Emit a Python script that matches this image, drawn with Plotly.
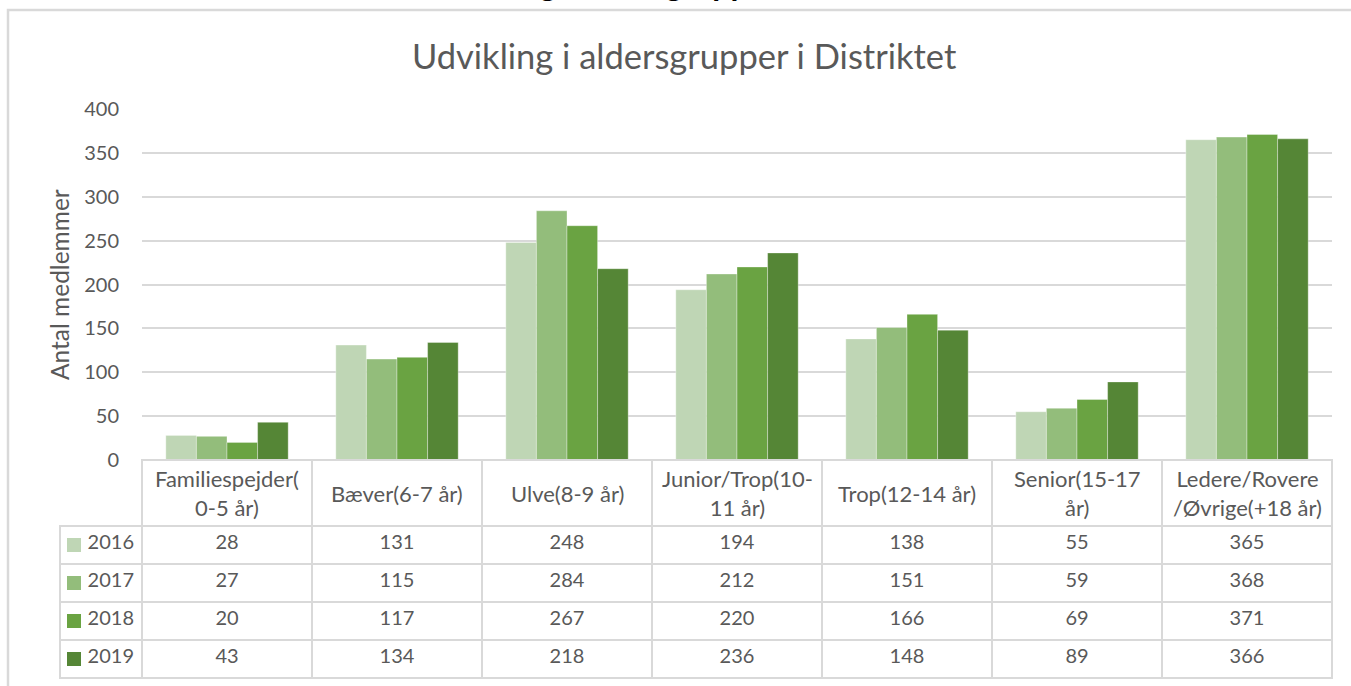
import plotly.graph_objects as go

# ---------------- data ----------------
categories = ["Familiespejder(0-5 år)", "Bæver(6-7 år)", "Ulve(8-9 år)",
              "Junior/Trop(10-11 år)", "Trop(12-14 år)", "Senior(15-17 år)",
              "Ledere/Rovere/Øvrige(+18 år)"]
header_labels = ["Familiespejder(<br>0-5 år)", "Bæver(6-7 år)", "Ulve(8-9 år)",
                 "Junior/Trop(10-<br>11 år)", "Trop(12-14 år)", "Senior(15-17<br>år)",
                 "Ledere/Rovere<br>/Øvrige(+18 år)"]
years = ["2016", "2017", "2018", "2019"]
v2016 = [28, 131, 248, 194, 138, 55, 365]
v2017 = [27, 115, 284, 212, 151, 59, 368]
v2018 = [20, 117, 267, 220, 166, 69, 371]
v2019 = [43, 134, 218, 236, 148, 89, 366]
series = [v2016, v2017, v2018, v2019]
colors = ["#BFD6B5", "#93BD7B", "#6AA342", "#558636"]

title = "Udvikling i aldersgrupper i Distriktet"
clipped_heading = "Udvikling i aldersgrupper"
y_title = "Antal medlemmer"

# ---------------- layout helpers ----------------
W, H = 1351, 686
FONT = "Lato"
GREY = "#595959"
LINE = "#D9D9D9"
TABLE_TOP, HEADER_H, ROW_H = 460, 66, 38


def fx(p):
    return p / W


def fy(p):
    return 1 - p / H


fig = go.Figure()

for yr, vals, col in zip(years, series, colors):
    fig.add_trace(go.Bar(
        x=categories, y=vals, name=yr,
        marker=dict(color=col, line=dict(color="rgba(255,255,255,0.35)", width=1)),
        showlegend=False,
    ))

# data table below the plot
table_cols = [years] + [[s[i] for s in series] for i in range(len(categories))]
header_line_colors = ["rgba(0,0,0,0)"] + [LINE] * len(categories)
header_fill = ["rgba(0,0,0,0)"] + ["white"] * len(categories)

fig.add_trace(go.Table(
    domain=dict(x=[fx(60), fx(1332)], y=[0, fy(TABLE_TOP)]),
    columnwidth=[82] + [170] * len(categories),
    header=dict(values=[""] * (len(categories) + 1), height=HEADER_H,
                fill=dict(color=header_fill),
                line=dict(color=header_line_colors, width=1.5)),
    cells=dict(values=table_cols, height=ROW_H,
               align=["right"] + ["center"] * len(categories),
               fill=dict(color="white"),
               line=dict(color=LINE, width=1.5),
               font=dict(family=FONT, size=20, color=GREY)),
))

annotations = []
for cat, lab in zip(categories, header_labels):
    annotations.append(dict(x=cat, xref="x", y=fy(TABLE_TOP + HEADER_H / 2), yref="paper",
                            text=lab, showarrow=False, yanchor="middle",
                            font=dict(family=FONT, size=22, color=GREY)))
annotations.append(dict(x=fx(685), xref="paper", y=fy(55), yref="paper",
                        text=title, showarrow=False, xanchor="center", yanchor="middle",
                        font=dict(family=FONT, size=34.5, color=GREY)))
annotations.append(dict(x=fx(600), xref="paper", y=fy(5), yref="paper",
                        text=clipped_heading, showarrow=False, xanchor="center",
                        yanchor="bottom",
                        font=dict(family=FONT, size=32, color="black", weight="bold")))
annotations.append(dict(x=fx(59), xref="paper", y=fy(285), yref="paper",
                        text=y_title, showarrow=False, textangle=-90,
                        xanchor="center", yanchor="middle",
                        font=dict(family=FONT, size=24.5, color=GREY)))

# legend swatches inside the table's first column
shapes = [dict(type="rect", xref="paper", yref="paper",
               x0=fx(8), x1=1.02, y0=-0.02, y1=fy(10),
               line=dict(color=LINE, width=2.5), layer="below")]
for i, c in enumerate(colors):
    yc = TABLE_TOP + HEADER_H + ROW_H * i + ROW_H / 2
    shapes.append(dict(type="rect", xref="paper", yref="paper",
                       x0=fx(67), x1=fx(81), y0=fy(yc + 7), y1=fy(yc - 7),
                       fillcolor=c, line=dict(width=0), layer="above"))

fig.update_layout(
    width=W, height=H,
    margin=dict(l=0, r=0, t=0, b=0, autoexpand=False),
    paper_bgcolor="white", plot_bgcolor="white",
    barmode="group", bargap=0.28, bargroupgap=0,
    font=dict(family=FONT, color=GREY),
    xaxis=dict(domain=[fx(142), fx(1332)], showticklabels=False,
               showgrid=False, zeroline=False, showline=False),
    yaxis=dict(domain=[fy(TABLE_TOP), fy(109)], range=[0, 400], dtick=50,
               showgrid=True, gridcolor=LINE, gridwidth=2,
               zeroline=False, showline=False,
               tickfont=dict(family=FONT, size=20, color=GREY),
               ticks="", ticklabelstandoff=22),
    annotations=annotations,
    shapes=shapes,
)

fig.write_html(
    "out.html",
    config={"displayModeBar": False},
    post_script="document.body.style.margin='0';document.body.style.overflow='hidden';",
)
